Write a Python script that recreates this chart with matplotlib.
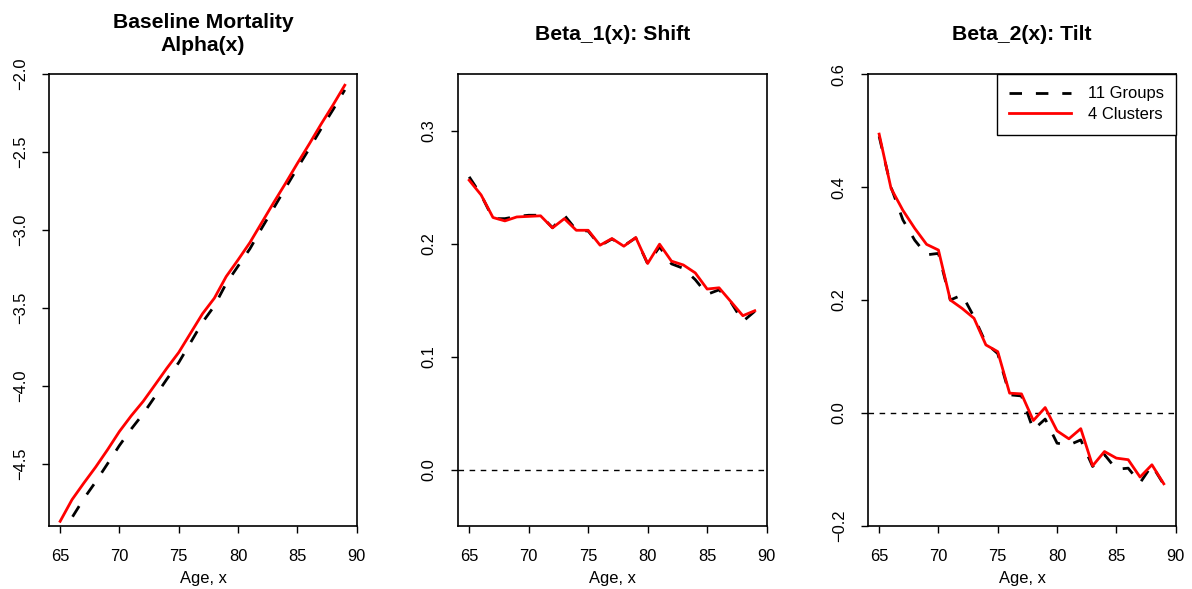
import matplotlib
matplotlib.use("Agg")
import matplotlib.pyplot as plt
import numpy as np

plt.rcParams['font.family'] = ['Liberation Sans', 'DejaVu Sans']

ages = list(range(65, 90))

alpha_groups = [-4.99, -4.846, -4.724, -4.616, -4.50, -4.383, -4.277, -4.18, -4.069,
                -3.957, -3.851, -3.722, -3.593, -3.488, -3.344, -3.232, -3.121, -2.988,
                -2.86, -2.731, -2.603, -2.479, -2.351, -2.229, -2.101]
alpha_clusters = [-4.870, -4.731, -4.624, -4.521, -4.41, -4.293, -4.192, -4.10, -3.994,
                  -3.887, -3.786, -3.662, -3.538, -3.438, -3.299, -3.192, -3.081, -2.953,
                  -2.825, -2.701, -2.573, -2.449, -2.321, -2.199, -2.071]

beta1_groups = [0.259, 0.243, 0.222, 0.222, 0.224, 0.225, 0.225, 0.214, 0.225, 0.212,
                0.211, 0.198, 0.204, 0.198, 0.205, 0.182, 0.197, 0.182, 0.178, 0.168,
                0.155, 0.159, 0.148, 0.131, 0.14]
beta1_clusters = [0.256, 0.243, 0.223, 0.220, 0.2235, 0.224, 0.2245, 0.2138, 0.222, 0.2117,
                  0.2117, 0.1985, 0.2044, 0.1976, 0.2053, 0.1823, 0.1994, 0.1844, 0.181, 0.174,
                  0.1597, 0.1608, 0.1485, 0.1361, 0.1405]

beta2_groups = [0.49, 0.40, 0.342, 0.306, 0.28, 0.2826, 0.20, 0.209, 0.17, 0.1234,
                0.105, 0.032, 0.03, -0.03, -0.011, -0.0537, -0.057, -0.048, -0.095, -0.074,
                -0.10, -0.098, -0.124, -0.093, -0.127]
beta2_clusters = [0.494, 0.398, 0.359, 0.327, 0.2986, 0.2885, 0.20, 0.185, 0.1676, 0.1204,
                  0.1085, 0.0349, 0.0336, -0.0136, 0.0094, -0.0319, -0.046, -0.028, -0.0938, -0.0685,
                  -0.0802, -0.083, -0.1138, -0.092, -0.1257]

titles = ["Baseline Mortality\nAlpha(x)", "Beta_1(x): Shift", "Beta_2(x): Tilt"]
xlabel = "Age, x"
xticks = [65, 70, 75, 80, 85, 90]
ylims = [(-4.9, -1.999), (-0.05, 0.35), (-0.2005, 0.6005)]
yticks = [[-4.5, -4.0, -3.5, -3.0, -2.5, -2.0],
          [0.0, 0.1, 0.2, 0.3],
          [-0.2, 0.0, 0.2, 0.4, 0.6]]
ytick_labels = [["\u22124.5", "\u22124.0", "\u22123.5", "\u22123.0", "\u22122.5", "\u22122.0"],
                ["0.0", "0.1", "0.2", "0.3"],
                ["\u22120.2", "0.0", "0.2", "0.4", "0.6"]]
legend_labels = ["11 Groups", "4 Clusters"]

W, H = 1192, 589
fig = plt.figure(figsize=(W / 100, H / 100), dpi=100)

boxes = [(49, 357), (458, 767), (868, 1176)]
top, bottom = 74, 526

series = [(alpha_groups, alpha_clusters), (beta1_groups, beta1_clusters), (beta2_groups, beta2_clusters)]

for i, ((l, r), (g, c)) in enumerate(zip(boxes, series)):
    ax = fig.add_axes([l / W, (H - bottom) / H, (r - l) / W, (bottom - top) / H])
    if i > 0:
        ax.axhline(0, color='black', lw=1.0, dashes=(4, 4))
    lg, = ax.plot(ages, g, color='black', lw=2.0, dashes=(4.5, 5.0), dash_capstyle='butt')
    lc, = ax.plot(ages, c, color='#ff0000', lw=2.0, solid_joinstyle='round')
    ax.set_xlim(64.06, 90.03)
    ax.set_ylim(*ylims[i])
    ax.set_xticks(xticks)
    ax.set_xticklabels([str(t) for t in xticks])
    ax.set_yticks(yticks[i])
    ax.set_yticklabels(ytick_labels[i], rotation=90, va='center')
    ax.tick_params(axis='both', direction='out', length=5.3, width=1.0, labelsize=11.9, color='black')
    ax.tick_params(axis='x', pad=11.5)
    ax.tick_params(axis='y', pad=10)
    for s in ax.spines.values():
        s.set_linewidth(1.2)
    ax.set_xlabel(xlabel, fontsize=11.9)
    ax.xaxis.set_label_coords(0.5, -52 / 452)
    ax.xaxis.label.set_va('center')
    ax.text(0.5, 1 + 40 / 452, titles[i], transform=ax.transAxes, ha='center', va='center',
            fontsize=15.2, fontweight='bold', linespacing=1.22)
    if i == 2:
        leg = ax.legend([lg, lc], legend_labels, loc='upper right', borderaxespad=0, fancybox=False,
                        fontsize=11.9, handlelength=3.75, handletextpad=1.0, borderpad=0.75,
                        labelspacing=0.35, framealpha=1)
        leg.get_frame().set_edgecolor('black')
        leg.get_frame().set_linewidth(1.0)

fig.savefig("out.png", dpi=100)
